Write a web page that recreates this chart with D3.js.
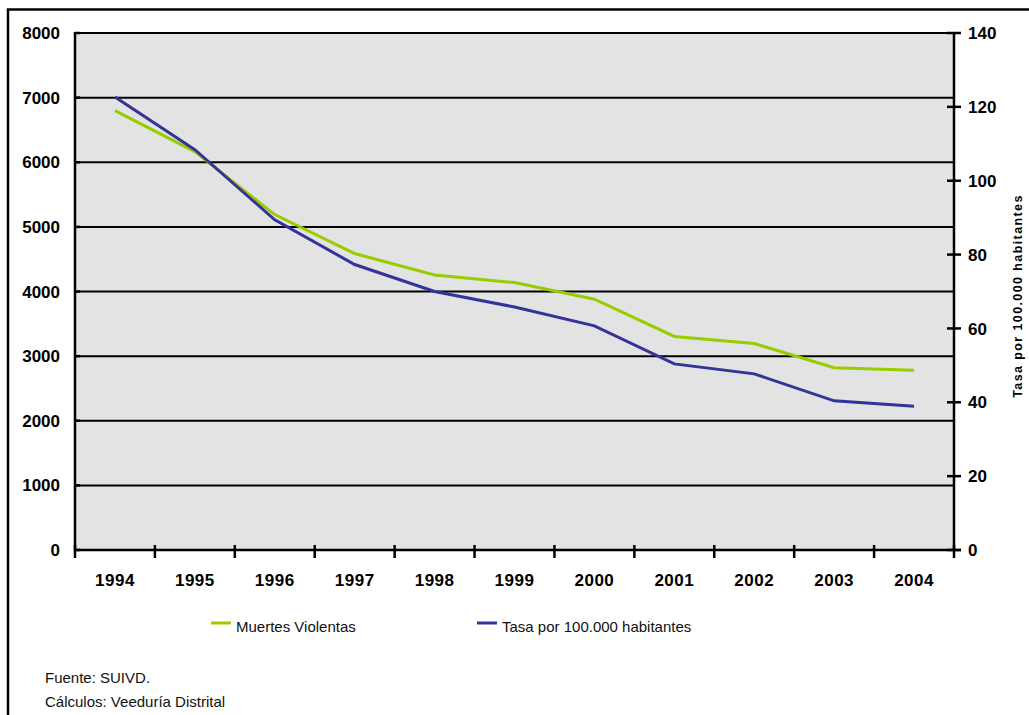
<!DOCTYPE html>
<html>
<head>
<meta charset="utf-8">
<script src="https://cdnjs.cloudflare.com/ajax/libs/d3/7.8.5/d3.min.js"></script>
<style>
  html, body { margin: 0; padding: 0; background: #fff; }
  svg { display: block; font-family: "Liberation Sans", Arial, sans-serif; }
</style>
</head>
<body>
<svg id="chart" width="1029" height="715"></svg>
<script>
const years = ["1994","1995","1996","1997","1998","1999","2000","2001","2002","2003","2004"];
const muertes = [6800, 6165, 5190, 4587, 4255, 4138, 3880, 3305, 3195, 2820, 2780];
const tasa = [122.7, 108.4, 89.4, 77.3, 70.0, 65.8, 60.7, 50.4, 47.7, 40.4, 38.9];
const leftTicks = [0, 1000, 2000, 3000, 4000, 5000, 6000, 7000, 8000];
const rightTicks = [0, 20, 40, 60, 80, 100, 120, 140];
const seriesNames = ["Muertes Violentas", "Tasa por 100.000 habitantes"];
const rightTitle = "Tasa por 100.000 habitantes";
const footer = ["Fuente: SUIVD.", "Cálculos: Veeduría Distrital"];

(function () {
const svg = d3.select("#chart");
const pL = 75, pR = 954, pT = 33, pB = 550;

// outer frame
svg.append("rect").attr("x", 8).attr("y", 9.5).attr("width", 1040).attr("height", 720)
  .attr("fill", "none").attr("stroke", "#000").attr("stroke-width", 2.5);

const x = d3.scaleBand().domain(years).range([pL, pR]).padding(0);
const yL = d3.scaleLinear().domain([0, 8000]).range([pB, pT]);
const yR = d3.scaleLinear().domain([0, 140]).range([pB, pT]);

// plot background
svg.append("rect").attr("x", pL).attr("y", pT).attr("width", pR - pL).attr("height", pB - pT)
  .attr("fill", "#e3e3e3");

// gridlines
svg.append("g").selectAll("line").data(leftTicks.filter(d => d > 0)).join("line")
  .attr("x1", pL).attr("x2", pR)
  .attr("y1", d => yL(d)).attr("y2", d => yL(d))
  .attr("stroke", "#000").attr("stroke-width", 2);

// left axis
const gL = svg.append("g");
gL.append("line").attr("x1", pL).attr("x2", pL).attr("y1", pT - 1).attr("y2", pB + 1)
  .attr("stroke", "#000").attr("stroke-width", 2.5);
gL.selectAll("line.t").data(leftTicks).join("line").attr("class", "t")
  .attr("x1", pL).attr("x2", pL + 5).attr("y1", d => yL(d)).attr("y2", d => yL(d))
  .attr("stroke", "#000").attr("stroke-width", 2.5);
gL.selectAll("text").data(leftTicks).join("text")
  .attr("x", 60).attr("y", d => yL(d)).attr("dy", "0.36em")
  .attr("text-anchor", "end").attr("font-size", 17).attr("font-weight", "bold")
  .text(d => d);

// right axis
const gR = svg.append("g");
gR.append("line").attr("x1", pR).attr("x2", pR).attr("y1", pT - 1).attr("y2", pB + 1)
  .attr("stroke", "#000").attr("stroke-width", 2.5);
gR.selectAll("line.t").data(rightTicks).join("line").attr("class", "t")
  .attr("x1", pR - 7).attr("x2", pR + 7).attr("y1", d => yR(d)).attr("y2", d => yR(d))
  .attr("stroke", "#000").attr("stroke-width", 2.5);
gR.selectAll("text").data(rightTicks).join("text")
  .attr("x", 968).attr("y", d => yR(d)).attr("dy", "0.36em")
  .attr("text-anchor", "start").attr("font-size", 17).attr("font-weight", "bold")
  .text(d => d);
svg.append("text")
  .attr("transform", `translate(1022, 296) rotate(-90)`)
  .attr("text-anchor", "middle").attr("font-size", 12.5).attr("font-weight", "bold")
  .attr("letter-spacing", 1.4)
  .text(rightTitle);

// x axis
const gX = svg.append("g");
gX.append("line").attr("x1", pL).attr("x2", pR + 7).attr("y1", pB).attr("y2", pB)
  .attr("stroke", "#000").attr("stroke-width", 2.5);
const bounds = years.map(d => x(d)).concat([x(years[years.length - 1]) + x.bandwidth()]);
gX.selectAll("line.t").data(bounds).join("line").attr("class", "t")
  .attr("x1", d => d).attr("x2", d => d).attr("y1", pB - 5).attr("y2", pB + 8)
  .attr("stroke", "#000").attr("stroke-width", 2.5);
gX.selectAll("text").data(years).join("text")
  .attr("x", d => x(d) + x.bandwidth() / 2).attr("y", 586)
  .attr("text-anchor", "middle").attr("font-size", 17).attr("font-weight", "bold")
  .attr("letter-spacing", 0.5)
  .text(d => d);

// lines
const cx = d => x(d) + x.bandwidth() / 2;
const lineL = d3.line().x((d, i) => cx(years[i])).y(d => yL(d));
const lineR = d3.line().x((d, i) => cx(years[i])).y(d => yR(d));
svg.append("path").datum(muertes).attr("d", lineL)
  .attr("fill", "none").attr("stroke", "#99cc00").attr("stroke-width", 3);
svg.append("path").datum(tasa).attr("d", lineR)
  .attr("fill", "none").attr("stroke", "#333399").attr("stroke-width", 3);

// legend
const legend = [
  { name: seriesNames[0], color: "#99cc00", x: 211 },
  { name: seriesNames[1], color: "#333399", x: 477 }
];
const lg = svg.append("g").selectAll("g").data(legend).join("g");
lg.append("line").attr("x1", d => d.x).attr("x2", d => d.x + 20).attr("y1", 623).attr("y2", 623)
  .attr("stroke", d => d.color).attr("stroke-width", 3);
lg.append("text").attr("x", d => d.x + 25).attr("y", 632).attr("font-size", 15)
  .attr("fill", "#111").text(d => d.name);

// footer
svg.append("g").selectAll("text").data(footer).join("text")
  .attr("x", 45).attr("y", (d, i) => 683 + i * 24).attr("font-size", 15).attr("fill", "#111")
  .text(d => d);
})();
</script>
</body>
</html>
